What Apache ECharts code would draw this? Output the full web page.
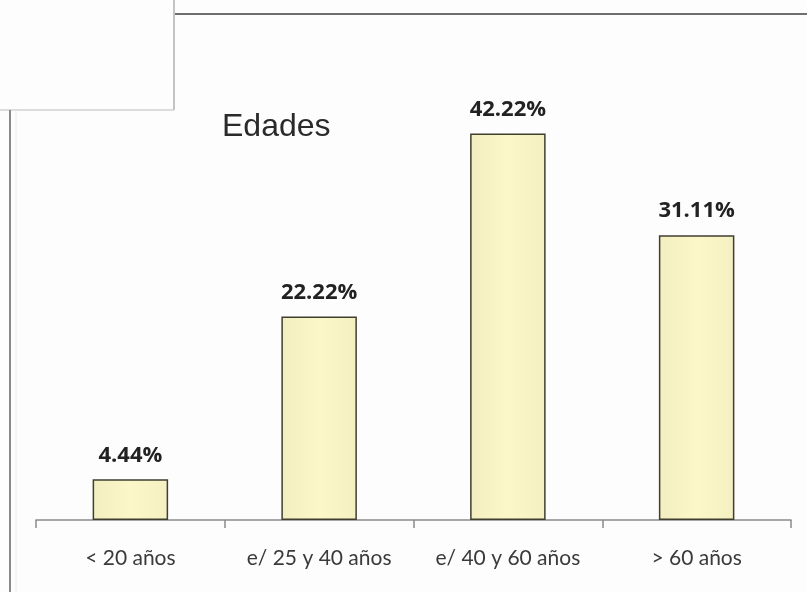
<!DOCTYPE html>
<html><head><meta charset="utf-8">
<script src="https://cdn.jsdelivr.net/npm/echarts@6/dist/echarts.min.js"></script>
<style>html,body{margin:0;padding:0;background:#fff}#c{width:807px;height:592px}</style>
</head><body><div id="c"></div>
<script>
const categories = ['< 20 años', 'e/ 25 y 40 años', 'e/ 40 y 60 años', '> 60 años'];
const values = [4.44, 22.22, 42.22, 31.11];
const titleText = 'Edades';

const chart = echarts.init(document.getElementById('c'), null, {renderer: 'canvas'});
chart.setOption({
  backgroundColor: '#fdfdfd',
  animation: false,
  title: {
    text: titleText, left: 217, top: 106,
    textStyle: {fontFamily: 'Liberation Sans', fontWeight: 'normal', fontSize: 32, color: '#2a2a2a'}
  },
  grid: {left: 36, right: 16, top: 108, bottom: 72},
  xAxis: {
    type: 'category', data: categories,
    axisLine: {lineStyle: {color: '#8a8a8a', width: 1.5}},
    axisTick: {show: true, length: 8, lineStyle: {color: '#8a8a8a', width: 1.5}},
    axisLabel: {margin: 28, fontFamily: 'Lato', fontSize: 21, color: '#3a3a3a'}
  },
  yAxis: {type: 'value', min: 0, max: 45, show: false, splitLine: {show: false}},
  series: [{
    type: 'bar', data: values, barWidth: '40%',
    itemStyle: {
      color: new echarts.graphic.LinearGradient(0, 0, 1, 0, [
        {offset: 0, color: '#f3eec0'}, {offset: 0.5, color: '#fbf7c8'}, {offset: 1, color: '#f5f0c2'}
      ]),
      borderColor: '#3f3f30', borderWidth: 1.5
    },
    label: {
      show: true, position: 'top', distance: 13,
      formatter: p => p.value.toFixed(2) + '%',
      fontFamily: 'Open Sans', fontWeight: 'bold', fontSize: 22, color: '#222'
    }
  }],
  graphic: [
    {type: 'line', shape: {x1: 175, y1: 14, x2: 807, y2: 14}, style: {stroke: '#6f6f6f', lineWidth: 2}, silent: true},
    {type: 'line', shape: {x1: 174, y1: 0, x2: 174, y2: 110}, style: {stroke: '#b0b0b0', lineWidth: 1.5}, silent: true},
    {type: 'line', shape: {x1: 0, y1: 110, x2: 174, y2: 110}, style: {stroke: '#d0d0d0', lineWidth: 1.5}, silent: true},
    {type: 'line', shape: {x1: 10, y1: 110, x2: 10, y2: 592}, style: {stroke: '#8a8a8a', lineWidth: 2}, silent: true},
    {type: 'line', shape: {x1: 16, y1: 110, x2: 16, y2: 592}, style: {stroke: '#ececec', lineWidth: 1}, silent: true}
  ]
});
</script></body></html>
